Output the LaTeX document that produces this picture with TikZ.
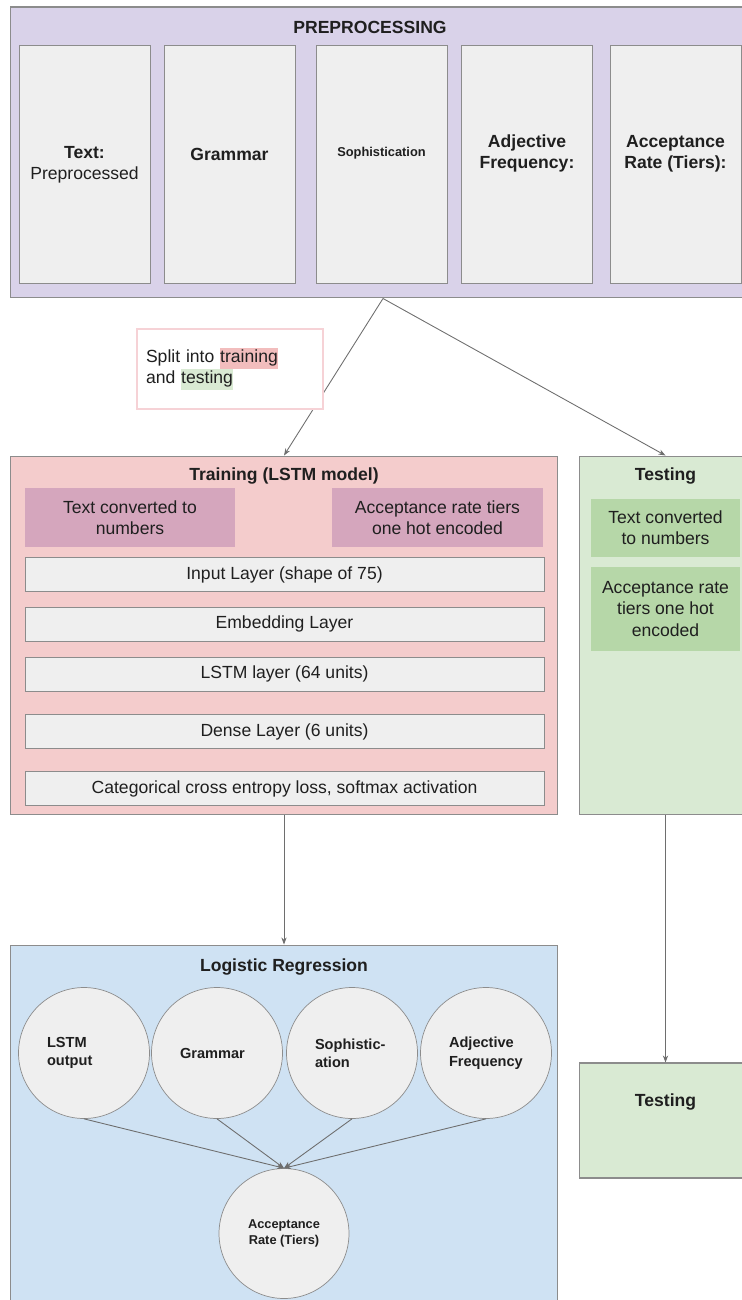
\documentclass[tikz,border=0pt]{standalone}
\usepackage{fontspec}
\setmainfont{Liberation Sans}
\usepackage{tikz}
\usetikzlibrary{arrows.meta}
\definecolor{edgegray}{HTML}{8C8C8C}
\definecolor{linkgray}{HTML}{6E6E6E}
\definecolor{ink}{HTML}{1F1F1F}
\definecolor{prefill}{HTML}{D9D2E9}
\definecolor{boxfill}{HTML}{EFEFEF}
\definecolor{trainfill}{HTML}{F4CCCC}
\definecolor{trainin}{HTML}{D5A6BD}
\definecolor{testfill}{HTML}{D9EAD3}
\definecolor{testin}{HTML}{B6D7A8}
\definecolor{logitfill}{HTML}{CFE2F3}
\definecolor{hltrain}{HTML}{F2BDBD}
\definecolor{hltest}{HTML}{D9EAD3}
\definecolor{splitedge}{HTML}{F6D2D6}
\newcommand{\normalfnt}{\fontsize{10}{12}\selectfont}
\newcommand{\hlword}[2]{{\setlength{\fboxsep}{0pt}\colorbox{#1}{\strut #2}}}
\tikzstyle{panel}=[draw=edgegray,line width=0.6pt,inner sep=0pt]
\tikzstyle{column}=[draw=edgegray,fill=boxfill,minimum width=2.62cm,minimum height=4.76cm,inner sep=0pt]
\tikzstyle{title}=[font=\normalfnt\bfseries,text=ink,align=center]
\tikzstyle{plain}=[font=\normalfnt,text=ink,align=center]
\tikzstyle{layer}=[draw=edgegray,fill=boxfill,minimum width=10.38cm,minimum height=0.68cm,font=\normalfnt,text=ink]
\tikzstyle{feature}=[circle,draw=edgegray,fill=boxfill,minimum size=2.62cm,text width=1.48cm,align=left,font=\fontsize{8.3}{10.5}\selectfont\bfseries,text=ink]
\tikzstyle{link}=[draw=linkgray,line width=0.5pt,-{Stealth[length=4pt,width=3pt]}]
\newcommand{\tikzpxscale}{0.02cm}

\begin{document}
\begin{tikzpicture}[x=\tikzpxscale,y=-\tikzpxscale]
    \useasboundingbox (0,0) rectangle (741,1300);
    % preprocessing
    \node[panel,fill=prefill,minimum width=14.92cm,minimum height=5.82cm] (pre) at (383,152.5) {};
    \node[title] (pretitle) at (370,27) {PREPROCESSING};
    \node[column] (p1) at (84.5,164) {};
    \node[column] (p2) at (229.5,164) {};
    \node[column] (p3) at (381.5,164) {};
    \node[column] (p4) at (527,164) {};
    \node[column] (p5) at (675.5,164) {};
    \node[plain] (l1) at (84.5,164.5) {\textbf{Text:}\\Preprocessed};
    \node[title] (l2) at (229.5,154) {Grammar};
    \node[title,font=\fontsize{7.3}{9}\selectfont\bfseries] (l3) at (381.5,153) {Sophistication};
    \node[title] (l4) at (527,153.5) {Adjective\\Frequency:};
    \node[title] (l5) at (675.5,153.5) {Acceptance\\Rate (Tiers):};
    % training
    \node[panel,fill=trainfill,minimum width=10.96cm,minimum height=7.18cm] (train) at (284,635.5) {};
    \node[title] (traintitle) at (284,476) {Training (LSTM model)};
    \node[fill=trainin,minimum width=4.2cm,minimum height=1.18cm,font=\normalfnt,text=ink,align=center] (tnum) at (130,517.5) {Text converted to\\numbers};
    \node[fill=trainin,minimum width=4.22cm,minimum height=1.18cm,font=\normalfnt,text=ink,align=center] (thot) at (437.5,517.5) {Acceptance rate tiers\\one hot encoded};
    \node[layer] (input) at (284.5,574.5) {Input Layer (shape of 75)};
    \node[layer] (embed) at (284.5,624) {Embedding Layer};
    \node[layer] (lstm) at (284.5,674) {LSTM layer (64 units)};
    \node[layer] (dense) at (284.5,731.5) {Dense Layer (6 units)};
    \node[layer] (loss) at (284.5,788.5) {Categorical cross entropy loss, softmax activation};
    % testing
    \node[panel,fill=testfill,minimum width=3.46cm,minimum height=7.18cm] (test) at (665.5,635.5) {};
    \node[title] (testtitle) at (665.5,476) {Testing};
    \node[fill=testin,minimum width=2.98cm,minimum height=1.16cm,font=\normalfnt,text=ink,align=center] (snum) at (665.5,528) {Text converted\\to numbers};
    \node[fill=testin,minimum width=2.98cm,minimum height=1.68cm,font=\normalfnt,text=ink,align=center] (shot) at (665.5,609) {Acceptance rate\\tiers one hot\\encoded};
    % logistic regression
    \node[panel,fill=logitfill,minimum width=10.96cm,minimum height=7.3cm] (logit) at (284,1127.5) {};
    \node[title] (logittitle) at (284,967) {Logistic Regression};
    \node[feature] (e1) at (84,1053) {LSTM\\output};
    \node[feature] (e2) at (217,1053) {Grammar};
    \node[feature] (e3) at (352,1053) {Sophistic-\\ation};
    \node[feature] (e4) at (486,1053) {Adjective\\Frequency};
    \node[circle,draw=edgegray,fill=boxfill,minimum size=2.6cm,align=center,
          font=\fontsize{7.3}{9.5}\selectfont\bfseries,text=ink] (e5) at (284,1233.5) {Acceptance\\Rate (Tiers)};
    % final testing
    \node[panel,fill=testfill,minimum width=3.46cm,minimum height=2.3cm] (test2) at (665.5,1120.5) {};
    \node[title] (test2title) at (665.5,1102) {Testing};
    % connectors
    \draw[link] (pre.south) -- (train.north);
    \draw[link] (pre.south) -- (test.north);
    \draw[link] (train.south) -- (logit.north);
    \draw[link] (test.south) -- (test2.north);
    \draw[link] (e1.south) -- (e5.north);
    \draw[link] (e2.south) -- (e5.north);
    \draw[link] (e3.south) -- (e5.north);
    \draw[link] (e4.south) -- (e5.north);
    % split note, on top of the line
    \node[draw=splitedge,line width=0.8pt,fill=white,minimum width=3.72cm,minimum height=1.6cm,
          text width=3.36cm,inner xsep=0.18cm,align=left,font=\normalfnt,text=ink] (split) at (230,369)
          {Split into \hlword{hltrain}{training}\\and \hlword{hltest}{testing}};
\end{tikzpicture}
\end{document}
